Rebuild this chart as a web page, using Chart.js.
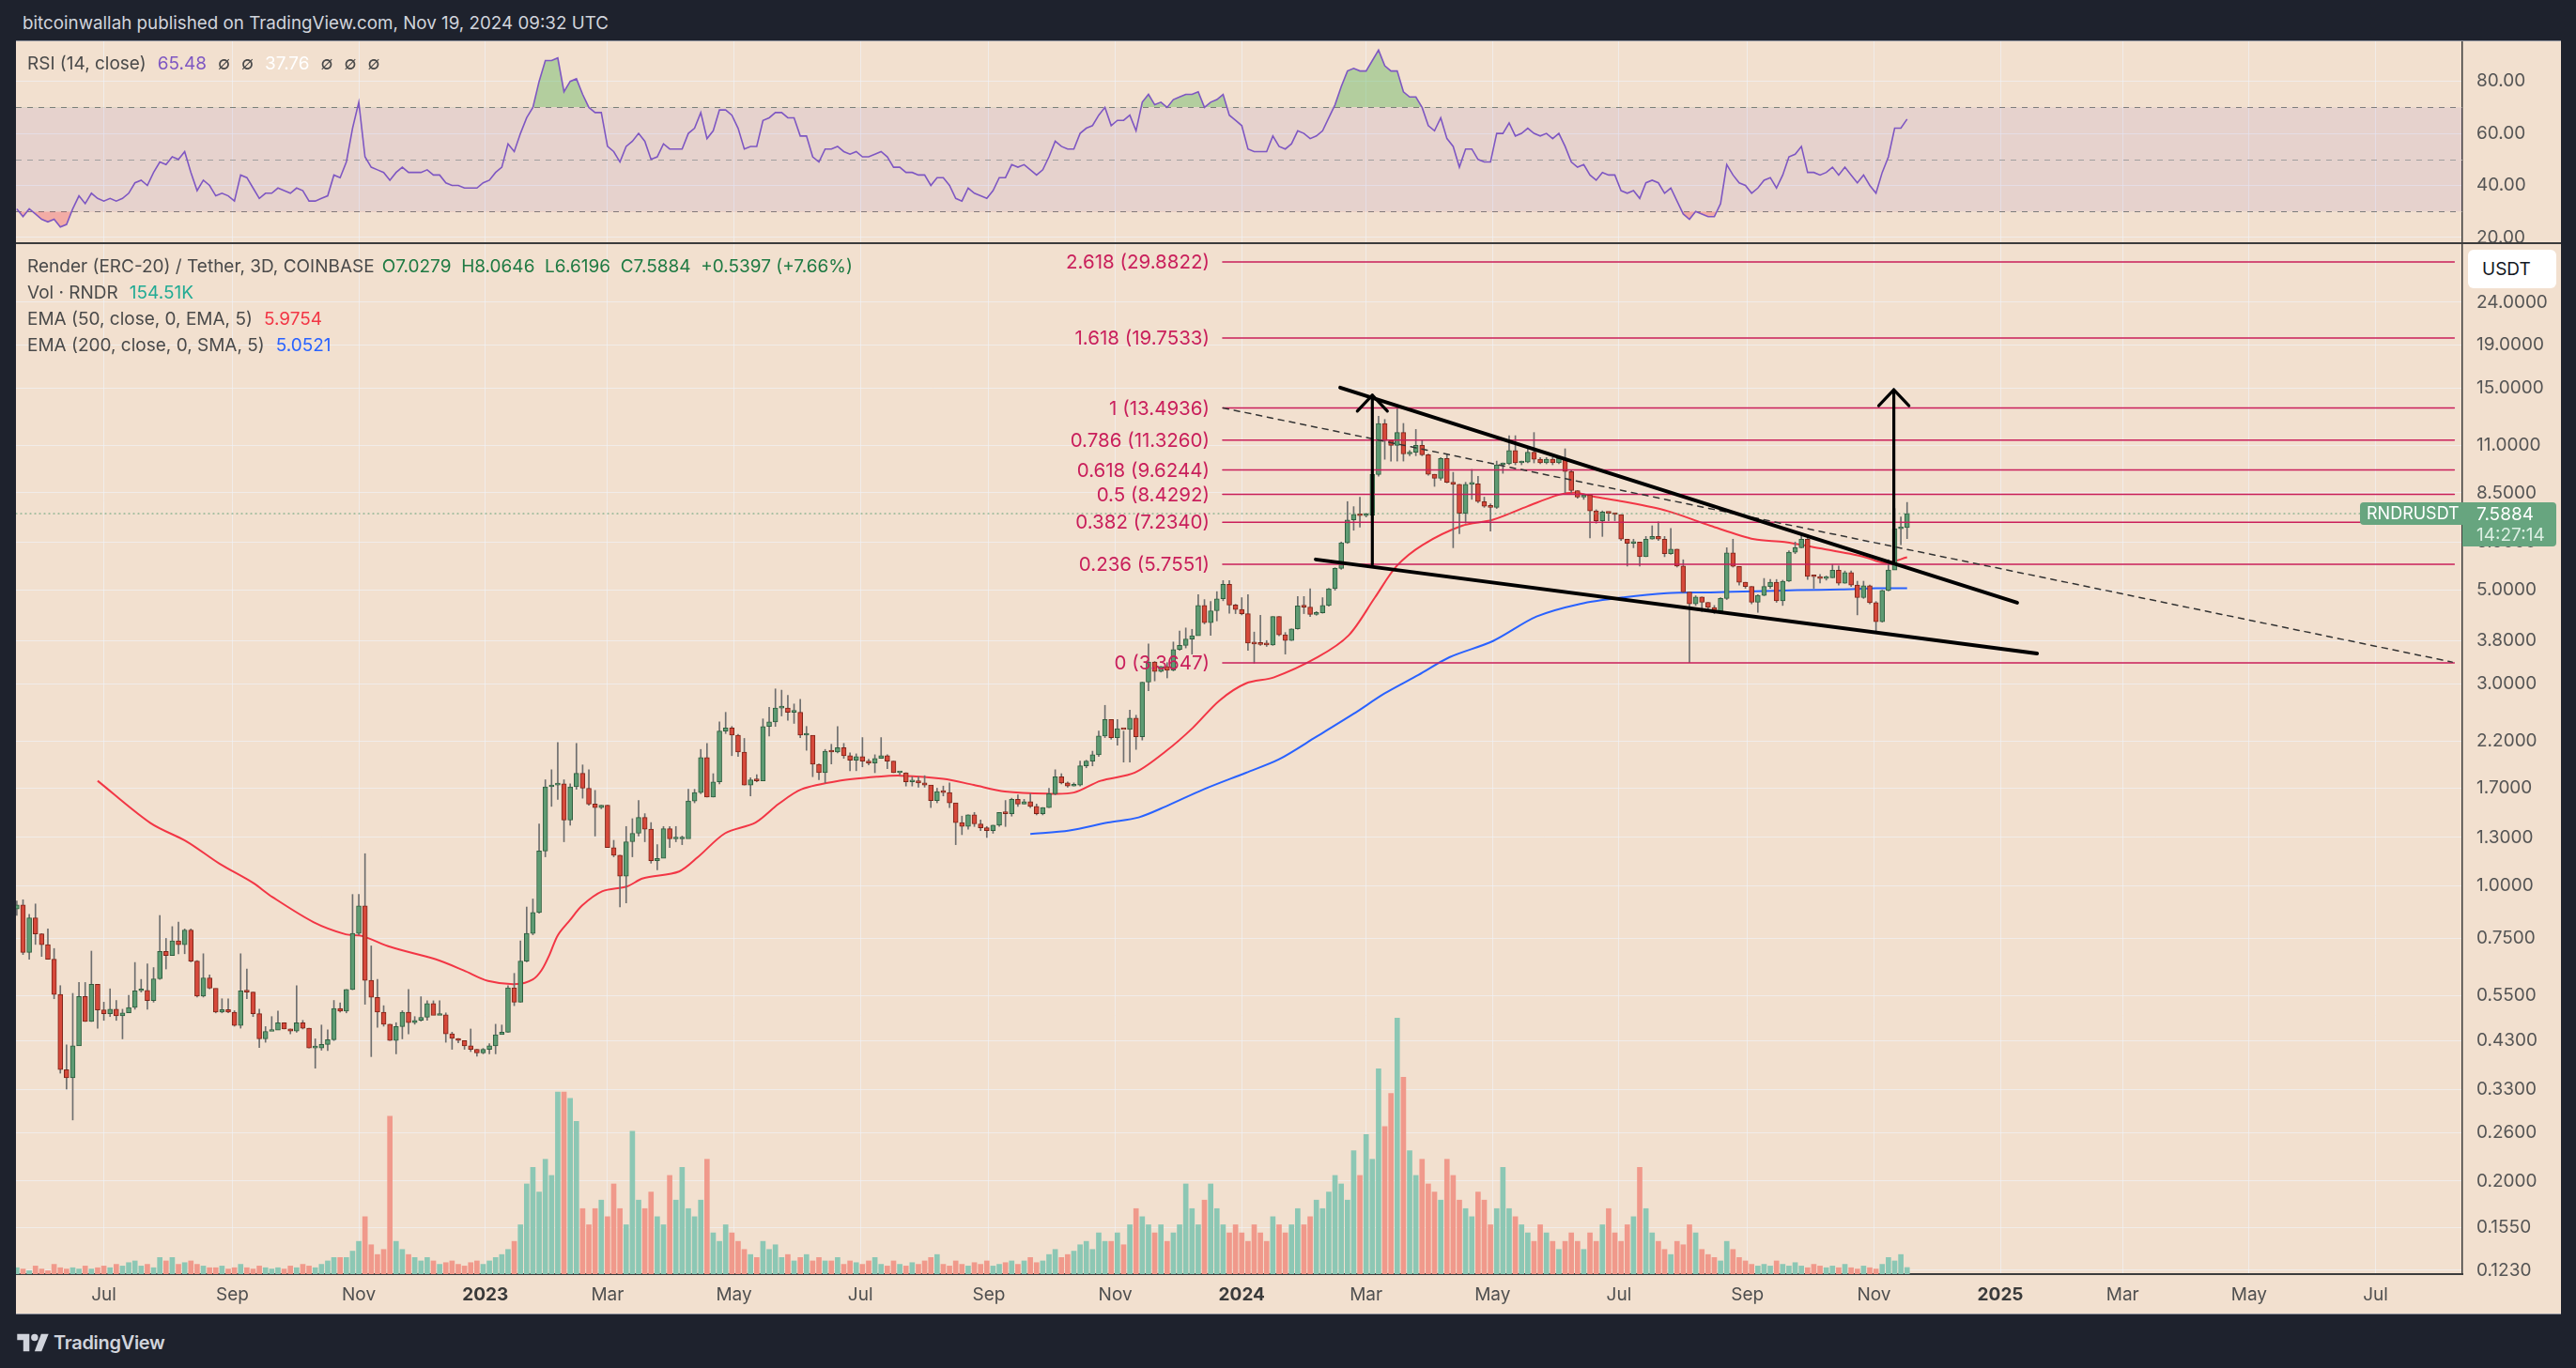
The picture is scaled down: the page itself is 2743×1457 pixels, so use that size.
<!DOCTYPE html>
<html lang="en">
<head>
<meta charset="UTF-8">
<title>RNDRUSDT 3D</title>
<script src="https://cdn.jsdelivr.net/npm/chart.js"></script>
<style>
  body { margin: 0; width: 2743px; height: 1457px; background: #1e222d; overflow: hidden; font-family: Inter, "Noto Sans", sans-serif; }
  .frame { position: absolute; left: 17px; top: 43px; width: 2710px; height: 1357px; background: #f2e0cf; border-top: 1px solid #8a8e99; border-bottom: 1px solid #8a8e99; box-sizing: border-box; }
  canvas { position: absolute; }
  .t { position: absolute; white-space: pre; font-size: 19px; line-height: 24px; color: #4a4a4a; }
  .sep { position: absolute; left: 17px; top: 258px; width: 2710px; height: 2px; background: #3c3c3c; }
  .unit { position: absolute; left: 2628px; top: 266px; width: 94px; height: 41px; background: #fff; border-radius: 6px; font-size: 19px; line-height: 41px; padding-left: 15px; box-sizing: border-box; color: #131722; }
  .logo { position: absolute; left: 17px; top: 1417px; display: flex; align-items: center; color: #d1d4dc; font-size: 20px; font-weight: 600; letter-spacing: -0.3px; }
</style>
</head>
<body>
<div class="frame"></div>
<canvas id="rsiChart" width="2710" height="215" style="left:17px;top:44px;width:2710px;height:215px"></canvas>
<canvas id="priceChart" width="2710" height="1141" style="left:17px;top:259px;width:2710px;height:1141px"></canvas>
<div class="sep"></div>

<div class="t" style="left:24px;top:13px;font-size:18.8px;color:#d1d4dc">bitcoinwallah published on TradingView.com, Nov 19, 2024 09:32 UTC</div>
<div class="t" style="left:29px;top:56px">RSI (14, close)<span style="color:#7e57c2;margin-left:12px">65.48</span><span style="margin-left:12px">∅</span><span style="margin-left:12px">∅</span><span style="color:#fff;margin-left:12px">37.76</span><span style="margin-left:12px">∅</span><span style="margin-left:12px">∅</span><span style="margin-left:12px">∅</span></div>
<div class="t" style="left:29px;top:272px">Render (ERC-20) / Tether, 3D, COINBASE<span style="color:#1f7a43;margin-left:8px">O7.0279  H8.0646  L6.6196  C7.5884  +0.5397 (+7.66%)</span></div>
<div class="t" style="left:29px;top:300px">Vol · RNDR<span style="color:#22ab94;margin-left:12px">154.51K</span></div>
<div class="t" style="left:29px;top:328px">EMA (50, close, 0, EMA, 5)<span style="color:#f23645;margin-left:12px">5.9754</span></div>
<div class="t" style="left:29px;top:356px">EMA (200, close, 0, SMA, 5)<span style="color:#2962ff;margin-left:12px">5.0521</span></div>
<div class="unit">USDT</div>
<div class="logo">
  <svg width="36" height="26" viewBox="0 0 36 28"><path d="M14 24H7V11H0V4h14v20Z" fill="#d1d4dc"/><circle cx="20" cy="8" r="4" fill="#d1d4dc"/><path d="M28 24h-8L27.5 4H36l-8 20Z" fill="#d1d4dc"/></svg>
  <span style="margin-left:4px">TradingView</span>
</div>

<script>
// 3D bars, x in days from 2023-01-01; first bar opens 2022-05-20
const startDay = -226;
const barStep = 3;
const firstOpen = 0.88;
const lastOpen = 7.0279;

const closes = [
  0.90, 0.695, 0.839, 0.769, 0.725, 0.67, 0.553, 0.367, 0.351, 0.418,
  0.547, 0.477, 0.584, 0.508, 0.498, 0.51, 0.492, 0.50, 0.515, 0.564,
  0.565, 0.535, 0.602, 0.699, 0.683, 0.74, 0.725, 0.785, 0.663, 0.548,
  0.605, 0.572, 0.502, 0.509, 0.502, 0.467, 0.564, 0.56, 0.498, 0.434,
  0.452, 0.455, 0.474, 0.458, 0.453, 0.474, 0.46, 0.413, 0.413, 0.421,
  0.432, 0.512, 0.505, 0.568, 0.771, 0.896, 0.597, 0.544, 0.502, 0.47,
  0.43, 0.464, 0.502, 0.474, 0.48, 0.488, 0.526, 0.493, 0.495, 0.446,
  0.435, 0.43, 0.418, 0.41, 0.402, 0.41, 0.418, 0.444, 0.45, 0.573,
  0.53, 0.663, 0.771, 0.864, 1.208, 1.713, 1.73, 1.74, 1.43, 1.713,
  1.843, 1.70, 1.56, 1.53, 1.55, 1.23, 1.18, 1.053, 1.27, 1.33,
  1.45, 1.36, 1.145, 1.16, 1.364, 1.29, 1.29, 1.29, 1.586, 1.66,
  2.01, 1.62, 1.76, 2.32, 2.36, 2.27, 2.07, 1.73, 1.78, 1.77,
  2.38, 2.44, 2.63, 2.63, 2.57, 2.57, 2.27, 2.27, 1.937, 1.85,
  2.08, 2.07, 2.12, 2.03, 1.98, 2.02, 1.97, 1.95, 2.0, 2.03,
  1.97, 1.85, 1.85, 1.76, 1.77, 1.75, 1.73, 1.59, 1.67, 1.66,
  1.57, 1.41, 1.38, 1.47, 1.40, 1.37, 1.35, 1.39, 1.49, 1.48,
  1.60, 1.56, 1.58, 1.54, 1.48, 1.53, 1.65, 1.81, 1.75, 1.72,
  1.73, 1.92, 1.97, 2.04, 2.26, 2.47, 2.24, 2.35, 2.34, 2.49,
  2.25, 3.03, 3.38, 3.21, 3.3, 3.23, 3.62, 3.7, 3.83, 3.9,
  4.6, 4.19, 4.47, 4.77, 5.16, 4.61, 4.5, 4.4, 3.75, 3.73,
  3.72, 3.71, 4.33, 3.92, 3.8, 4.05, 4.59, 4.56, 4.38, 4.42,
  4.6, 5.04, 5.63, 6.47, 7.33, 7.56, 7.5, 7.52, 9.39, 12.4,
  11.3, 11.0, 11.8, 10.5, 10.6, 11.0, 10.45, 9.4, 9.2, 10.25,
  9.0, 8.9, 7.6, 8.9, 8.92, 8.1, 7.9, 7.85, 9.9, 9.95,
  10.7, 10.0, 10.05, 10.6, 10.2, 10.0, 10.2, 10.0, 10.25, 9.54,
  8.6, 8.3, 8.4, 7.7, 7.3, 7.65, 7.6, 7.55, 6.6, 6.45,
  6.5, 6.0, 6.6, 6.7, 6.6, 6.1, 6.25, 5.7, 4.95, 4.64,
  4.82, 4.68, 4.55, 4.45, 4.78, 6.13, 5.69, 5.22, 5.1, 4.68,
  4.86, 5.1, 5.22, 4.72, 5.25, 6.15, 6.3, 6.6, 5.39, 5.38,
  5.33, 5.35, 5.57, 5.19, 5.5, 5.14, 4.8, 5.12, 4.67, 4.21,
  4.99, 5.58, 6.99, 7.03, 7.5884
];

const highs = [
  0.92, 0.926, 0.855, 0.905, 0.77, 0.79, 0.71, 0.58, 0.42, 0.556,
  0.59, 0.59, 0.70, 0.57, 0.53, 0.57, 0.535, 0.51, 0.55, 0.658,
  0.60, 0.653, 0.64, 0.85, 0.75, 0.80, 0.82, 0.79, 0.79, 0.665,
  0.69, 0.615, 0.57, 0.54, 0.54, 0.506, 0.69, 0.635, 0.56, 0.51,
  0.464, 0.49, 0.505, 0.474, 0.458, 0.58, 0.48, 0.46, 0.434, 0.468,
  0.456, 0.535, 0.528, 0.568, 0.953, 0.953, 1.19, 0.72, 0.60, 0.52,
  0.47, 0.474, 0.506, 0.568, 0.49, 0.546, 0.534, 0.534, 0.534, 0.50,
  0.45, 0.435, 0.425, 0.458, 0.41, 0.412, 0.423, 0.47, 0.468, 0.58,
  0.62, 0.74, 0.89, 0.93, 1.40, 1.78, 1.88, 2.18, 1.78, 1.74,
  2.17, 1.93, 1.88, 1.68, 1.55, 1.55, 1.28, 1.18, 1.38, 1.44,
  1.59, 1.48, 1.41, 1.25, 1.38, 1.38, 1.38, 1.31, 1.69, 1.69,
  2.10, 2.17, 1.84, 2.44, 2.57, 2.38, 2.28, 2.23, 1.80, 1.83,
  2.48, 2.64, 2.92, 2.90, 2.82, 2.69, 2.76, 2.38, 2.25, 1.94,
  2.10, 2.16, 2.38, 2.17, 2.06, 2.05, 2.24, 1.99, 2.04, 2.24,
  2.04, 1.97, 1.85, 1.85, 1.81, 1.81, 1.82, 1.72, 1.70, 1.72,
  1.75, 1.56, 1.46, 1.47, 1.49, 1.43, 1.38, 1.39, 1.49, 1.59,
  1.61, 1.64, 1.60, 1.65, 1.56, 1.53, 1.70, 1.88, 1.84, 1.76,
  1.75, 1.97, 1.98, 2.08, 2.32, 2.67, 2.47, 2.47, 2.32, 2.60,
  2.53, 3.03, 3.73, 3.39, 3.3, 3.37, 3.77, 4.0, 4.07, 4.04,
  4.88, 4.75, 4.70, 4.96, 5.27, 5.27, 4.63, 4.8, 4.88, 3.98,
  4.36, 3.8, 4.33, 4.33, 3.97, 4.05, 4.83, 4.83, 5.04, 4.45,
  4.8, 5.05, 5.65, 6.5, 8.1, 7.88, 8.3, 7.6, 9.85, 12.9,
  12.67, 11.3, 13.49, 12.4, 10.7, 12.0, 11.3, 10.5, 9.4, 10.3,
  10.5, 9.5, 8.9, 9.0, 9.65, 9.3, 8.3, 8.0, 10.1, 10.0,
  11.6, 11.6, 10.1, 10.8, 11.8, 10.3, 10.3, 10.3, 10.4, 10.8,
  9.6, 8.6, 8.45, 8.4, 7.75, 7.7, 7.65, 7.6, 7.55, 6.6,
  6.6, 6.45, 6.7, 7.1, 7.25, 6.7, 7.0, 6.25, 5.9, 4.95,
  4.85, 4.82, 4.68, 4.6, 4.8, 6.3, 6.6, 5.68, 5.22, 5.1,
  4.88, 5.33, 5.3, 5.3, 5.28, 6.2, 6.5, 6.8, 6.75, 5.42,
  5.45, 5.4, 5.75, 5.7, 5.55, 5.55, 5.25, 5.25, 5.14, 4.7,
  5.0, 5.9, 7.8, 7.45, 8.0646
];

const lows = [
  0.85, 0.687, 0.67, 0.726, 0.68, 0.67, 0.54, 0.36, 0.33, 0.279,
  0.42, 0.477, 0.477, 0.46, 0.48, 0.49, 0.48, 0.434, 0.50, 0.51,
  0.56, 0.51, 0.53, 0.60, 0.635, 0.69, 0.69, 0.69, 0.66, 0.545,
  0.545, 0.57, 0.50, 0.50, 0.50, 0.465, 0.46, 0.54, 0.49, 0.414,
  0.426, 0.455, 0.458, 0.458, 0.446, 0.45, 0.458, 0.413, 0.37, 0.408,
  0.407, 0.43, 0.502, 0.50, 0.567, 0.765, 0.524, 0.394, 0.462, 0.465,
  0.43, 0.40, 0.434, 0.446, 0.47, 0.478, 0.48, 0.495, 0.495, 0.426,
  0.41, 0.425, 0.41, 0.405, 0.395, 0.40, 0.40, 0.40, 0.445, 0.45,
  0.52, 0.53, 0.66, 0.765, 0.86, 1.17, 1.54, 1.60, 1.27, 1.39,
  1.69, 1.61, 1.55, 1.31, 1.52, 1.23, 1.17, 0.89, 0.91, 1.17,
  1.31, 1.27, 1.13, 1.09, 1.17, 1.23, 1.27, 1.25, 1.30, 1.57,
  1.65, 1.62, 1.62, 1.74, 2.29, 2.03, 2.02, 1.73, 1.63, 1.76,
  1.77, 2.26, 2.38, 2.52, 2.46, 2.42, 2.24, 2.09, 1.81, 1.78,
  1.75, 1.94, 2.06, 2.0, 1.87, 1.87, 1.91, 1.93, 1.85, 2.0,
  1.89, 1.85, 1.83, 1.72, 1.72, 1.71, 1.71, 1.53, 1.57, 1.63,
  1.53, 1.25, 1.32, 1.36, 1.38, 1.35, 1.30, 1.33, 1.38, 1.38,
  1.46, 1.54, 1.56, 1.53, 1.47, 1.47, 1.53, 1.64, 1.74, 1.71,
  1.72, 1.72, 1.90, 1.92, 2.02, 2.24, 2.22, 2.15, 1.96, 1.96,
  2.10, 2.21, 2.89, 3.05, 3.2, 3.10, 3.22, 3.6, 3.65, 3.53,
  3.91, 4.16, 3.91, 4.23, 4.72, 4.41, 4.4, 4.37, 3.6, 3.36,
  3.70, 3.68, 3.7, 3.9, 3.53, 3.8, 4.04, 4.4, 4.33, 4.36,
  4.41, 4.58, 5.0, 5.6, 6.45, 6.93, 7.05, 7.45, 7.45, 9.3,
  10.2, 10.1, 10.1, 10.1, 10.4, 10.4, 10.4, 9.35, 8.8, 9.1,
  8.97, 6.3, 6.8, 7.2, 8.2, 8.05, 7.85, 6.9, 7.8, 9.45,
  9.9, 9.9, 9.9, 10.0, 10.0, 9.95, 9.95, 9.9, 9.95, 8.5,
  8.5, 8.25, 8.2, 6.65, 7.2, 6.7, 7.3, 7.3, 6.55, 5.7,
  6.3, 5.7, 6.0, 6.6, 6.55, 6.0, 6.08, 5.67, 4.93, 3.37,
  4.6, 4.45, 4.5, 4.4, 4.4, 4.75, 5.67, 5.14, 5.05, 4.64,
  4.43, 4.85, 5.05, 4.68, 4.6, 5.24, 6.1, 6.3, 5.3, 5.05,
  5.2, 5.28, 5.35, 5.14, 5.19, 5.1, 4.37, 4.78, 4.64, 4.0,
  4.2, 4.98, 5.6, 6.4, 6.6196
];

// volume in thousands of RNDR
const volumes = [
  150, 120, 80, 190, 120, 80, 230, 150, 120, 150, 120, 190, 120, 150,
  190, 150, 230, 190, 270, 310, 190, 230, 150, 390, 310, 390, 230, 270,
  310, 230, 190, 150, 150, 190, 120, 150, 230, 150, 120, 190, 150, 120, 150, 120, 190, 150,
  230, 190, 150, 230, 310, 390, 390, 390, 540, 770,
  1350, 690, 460, 580,
  3710,
  770, 580, 460, 390, 310, 390, 310, 230, 270, 310,
  230, 190, 270, 310, 230, 310, 390, 460, 580, 770,
  1160, 2120, 2510, 1930, 2700, 2320, 4280, 4280, 4130, 3590, 1540,
  1160, 1540, 1740, 1350, 2120, 1540, 1160,
  3360,
  1740, 1540, 1930, 1350, 1160, 2320, 1740, 2510,
  1540, 1350, 1740, 2700, 970, 770, 1160, 970,
  770, 580, 460, 390, 770, 580, 690, 390, 460, 310, 390, 460, 310, 390, 310,
  310, 390, 230, 310, 270, 230, 310, 390, 230, 190, 310, 230, 190, 270, 230,
  310, 390, 460, 230, 190, 310, 230, 190, 270, 230, 310, 190, 230, 270, 310,
  230, 310, 390, 270, 310, 460, 580, 390, 460, 540, 690, 770, 580, 970, 770,
  770, 970, 690, 1160, 1540, 1350, 1160, 970, 1160, 770,
  970, 1160, 2120, 1540, 1160, 1740, 2120, 1540, 1160, 970,
  1160, 970, 770, 1160, 970, 770, 1350, 1160, 970, 1160,
  1540, 1160, 1350, 1740, 1540, 1930, 2320, 2120, 1740, 2900,
  2320, 3280, 2700, 4830, 3470, 4250,
  6020,
  4630, 2900, 2320, 2700, 2120, 1930, 1740, 2700,
  2320, 1740, 1540, 1350, 1930, 1740, 1160, 1540, 2510, 1540,
  1350, 1160, 970, 770, 1160, 970, 770, 580, 770, 970,
  770, 580, 970, 770, 1160, 1540, 970, 770, 1160, 1350,
  2510, 1540, 970, 770, 580, 460, 770, 690, 1160, 970,
  580, 460, 390, 310, 770, 580, 390, 310, 230, 190,
  230, 190, 310, 230, 190, 270, 190, 150, 230, 190,
  150, 190, 150, 230, 150, 120, 190, 150, 120, 230,
  390, 310, 460, 155
];

const rsi = [
  31, 28, 31, 29, 27, 26, 27, 24, 25, 31,
  36, 33, 37, 35, 34, 35, 34, 35, 37, 41,
  42, 40, 45, 49, 48, 51, 50, 53, 45, 38,
  42, 40, 36, 37, 36, 34, 44, 43, 39, 35,
  37, 37, 39, 38, 37, 39, 38, 34, 34, 35,
  36, 44, 43, 49, 62, 72, 51, 47, 46, 45,
  42, 45, 47, 45, 45, 45, 46, 44, 44, 41,
  40, 40, 39, 39, 39, 41, 42, 45, 47, 56,
  53, 60, 66, 70, 80, 88, 88, 89, 76, 80,
  81, 75, 70, 68, 68, 55, 53, 49, 55, 57,
  60, 57, 50, 51, 56, 54, 54, 54, 60, 62,
  68, 58, 61, 69, 69, 67, 62, 54, 55, 55,
  65, 66, 68, 68, 66, 66, 59, 59, 51, 49,
  54, 54, 55, 53, 52, 53, 51, 51, 52, 53,
  51, 47, 47, 45, 45, 44, 44, 40, 43, 43,
  40, 35, 34, 39, 37, 36, 35, 38, 43, 43,
  48, 47, 48, 46, 44, 46, 51, 57, 55, 54,
  54, 60, 62, 63, 67, 70, 63, 65, 65, 67,
  61, 72, 75, 71, 72, 70, 73, 74, 75, 75,
  76, 70, 72, 73, 75, 67, 65, 63, 54, 53,
  53, 53, 59, 55, 54, 56, 61, 60, 58, 59,
  61, 66, 71, 78, 84, 85, 84, 84, 88, 92,
  86, 84, 84, 76, 74, 74, 70, 63, 61, 66,
  58, 55, 47, 54, 54, 50, 49, 49, 60, 60,
  64, 59, 60, 62, 60, 59, 60, 58, 60, 55,
  49, 47, 48, 44, 42, 45, 44, 44, 38, 37,
  38, 35, 41, 42, 41, 37, 39, 34, 29, 27,
  30, 29, 28, 28, 33, 48, 44, 41, 40, 37,
  39, 42, 43, 39, 44, 51, 52, 55, 45, 45,
  44, 45, 47, 44, 47, 44, 41, 44, 40, 37,
  45, 51, 62, 62, 65.48
];

// EMA lines, read at these bar positions
const ema50Bars = [13, 21.5, 27.4, 32.6, 37.9, 41.1, 47.7, 52.9, 55.5, 60.1, 67.3, 71.9, 75.8, 80.4, 83, 84.4, 85.7, 87, 89, 90.9, 94.2, 98.1, 100.7, 106.5, 109.5, 113.9, 118.8, 122.5, 126.2, 132.3, 138.5, 142.2, 149, 153.9, 158.9, 165.7, 170, 174.3, 179.8, 184.8, 189.1, 193.4, 197.7, 202.2, 209.2, 214.2, 218.4, 221.9, 226.1, 232.4, 237.3, 243, 247.9, 250.7, 253.5, 258.4, 265.4, 272.4, 279.4, 284.3, 290, 297, 300.5, 304];
const ema50Vals = [1.77, 1.406, 1.27, 1.127, 1.017, 0.94, 0.82, 0.767, 0.76, 0.716, 0.67, 0.63, 0.595, 0.585, 0.600, 0.631, 0.688, 0.763, 0.83, 0.897, 0.97, 0.995, 1.04, 1.08, 1.167, 1.33, 1.41, 1.56, 1.69, 1.77, 1.81, 1.82, 1.79, 1.73, 1.67, 1.65, 1.66, 1.77, 1.85, 2.08, 2.36, 2.74, 3.01, 3.11, 3.47, 3.91, 4.8, 5.7, 6.4, 7.1, 7.33, 7.9, 8.4, 8.5, 8.33, 8.1, 7.7, 7.1, 6.6, 6.5, 6.28, 6.0, 5.8, 5.98];
const ema200Bars = [163, 169.3, 175.5, 180.4, 184.8, 190.9, 197.7, 203, 209, 215, 220, 225.4, 230.4, 237.4, 244.4, 251.4, 258.4, 265.4, 272.4, 279.4, 286.3, 293.4, 299, 304];
const ema200Vals = [1.325, 1.35, 1.41, 1.45, 1.54, 1.69, 1.85, 1.99, 2.25, 2.55, 2.85, 3.15, 3.47, 3.79, 4.33, 4.64, 4.81, 4.92, 4.94, 4.97, 5.0, 5.02, 5.05, 5.05];

// Fibonacci retracement
const fibLevels = ['2.618', '1.618', '1', '0.786', '0.618', '0.5', '0.382', '0.236', '0'];
const fibPrices = [29.8822, 19.7533, 13.4936, 11.3260, 9.6244, 8.4292, 7.2340, 5.7551, 3.3647];
const fibStartDay = 355.8;
const fibEndDay = 950;

// drawings: [day, price]
const dashedTrend = [[356, 13.49], [949, 3.38]];
const wedgeUpper = [[412.5, 15.07], [739.1, 4.67]];
const wedgeLower = [[400.7, 5.91], [748.7, 3.54]];
const arrowLeft = [[428, 5.755], [428, 14.46]];
const arrowLeftHead = [[420.75, 13.26], [428, 14.46], [435.25, 13.26]];
const arrowRight = [[679.6, 5.85], [679.6, 14.9]];
const arrowRightHead = [[672.3, 13.66], [679.6, 14.9], [686.9, 13.66]];
const lastPrice = 7.5884;

const tickDays = [-184, -122, -61, 0, 59, 120, 181, 243, 304, 365, 425, 486, 547, 609, 670, 731, 790, 851, 912];
const tickLabels = ['Jul', 'Sep', 'Nov', '2023', 'Mar', 'May', 'Jul', 'Sep', 'Nov', '2024', 'Mar', 'May', 'Jul', 'Sep', 'Nov', '2025', 'Mar', 'May', 'Jul'];
const priceTicks = [24, 19, 15, 11, 8.5, 6.5, 5, 3.8, 3, 2.2, 1.7, 1.3, 1, 0.75, 0.55, 0.43, 0.33, 0.26, 0.2, 0.155, 0.123];
const rsiTicks = [20, 40, 60, 80];

const xMin = -226.4, xMax = 953.9;

Chart.defaults.font.family = 'Inter, "Noto Sans", sans-serif';
Chart.defaults.font.size = 19;

const gridColor = 'rgba(240,243,250,0.6)';
const axisText = '#555555';
const fibColor = '#c91f5b';

const days = closes.map((c, i) => startDay + barStep * i);
const opens = closes.map((c, i) => i === 0 ? firstOpen : (i === closes.length - 1 ? lastOpen : closes[i - 1]));
const up = closes.map((c, i) => c >= opens[i]);
const toXY = pts => pts.map(([x, y]) => ({ x, y }));
const isYearTick = c => !!(c && c.tick && (tickLabels[tickDays.indexOf(c.tick.value)] || '').length === 4);

function seg(points, color, width, dash, order) {
  return {
    type: 'line', data: toXY(points), borderColor: color, borderWidth: width,
    borderDash: dash || [], pointRadius: 0, fill: false, tension: 0,
    borderCapStyle: 'round', borderJoinStyle: 'round', order: order, yAxisID: 'y'
  };
}

function xAxis(showLabels) {
  return {
    type: 'linear', min: xMin, max: xMax, offset: false,
    afterBuildTicks: s => { s.ticks = tickDays.map(v => ({ value: v })); },
    grid: { color: gridColor, drawTicks: false, offset: false },
    border: showLabels ? { display: true, color: '#3c3c3c', width: 2 } : { display: false },
    ticks: {
      display: showLabels, autoSkip: false, maxRotation: 0, padding: 11,
      color: c => isYearTick(c) ? '#3a3a3a' : '#4f4f4f',
      font: c => ({ size: 19, weight: isYearTick(c) ? 'bold' : 'normal' }),
      callback: v => tickLabels[tickDays.indexOf(v)] || ''
    },
    afterFit: s => { s.height = showLabels ? 43 : 0; s.paddingLeft = 0; s.paddingRight = 0; }
  };
}

// ---------- RSI pane ----------
const rsiBand = {
  id: 'rsiBand',
  beforeDatasetsDraw(chart) {
    const { ctx, chartArea: a, scales: { y } } = chart;
    const y70 = y.getPixelForValue(70), y50 = y.getPixelForValue(50), y30 = y.getPixelForValue(30);
    ctx.save();
    ctx.fillStyle = 'rgba(126,87,194,0.1)';
    ctx.fillRect(a.left, y70, a.right - a.left, y30 - y70);
    ctx.lineWidth = 1;
    ctx.setLineDash([6, 6]);
    [[y70, '#7d7d7d'], [y50, '#a0a0a0'], [y30, '#7d7d7d']].forEach(([py, col]) => {
      ctx.strokeStyle = col;
      ctx.beginPath();
      ctx.moveTo(a.left, Math.round(py) + 0.5);
      ctx.lineTo(a.right, Math.round(py) + 0.5);
      ctx.stroke();
    });
    ctx.restore();
  }
};

const rsiPoints = days.map((d, i) => ({ x: d, y: rsi[i] }));

new Chart(document.getElementById('rsiChart'), {
  type: 'line',
  data: {
    datasets: [
      {
        data: rsiPoints, borderColor: '#7e57c2', borderWidth: 1.6, pointRadius: 0, tension: 0,
        fill: { target: { value: 70 }, above: 'rgba(76,175,80,0.38)', below: 'rgba(0,0,0,0)' }
      },
      {
        data: rsiPoints, borderColor: 'rgba(0,0,0,0)', borderWidth: 0, pointRadius: 0, tension: 0,
        fill: { target: { value: 30 }, above: 'rgba(0,0,0,0)', below: 'rgba(242,54,69,0.3)' }
      }
    ]
  },
  options: {
    responsive: false, animation: false, devicePixelRatio: 1, events: [],
    layout: { padding: 0 },
    plugins: { legend: { display: false }, tooltip: { enabled: false } },
    scales: {
      x: xAxis(false),
      y: {
        position: 'right', min: 17.8, max: 95.4,
        afterBuildTicks: s => { s.ticks = rsiTicks.map(v => ({ value: v })); },
        grid: { color: gridColor, drawTicks: false },
        border: { display: true, color: '#3c3c3c', width: 1.5 },
        ticks: { color: axisText, padding: 15, callback: v => Number(v).toFixed(2) },
        afterFit: s => { s.width = 105; s.paddingTop = 0; s.paddingBottom = 0; }
      }
    }
  },
  plugins: [rsiBand]
});

// ---------- price pane ----------
const fibLabels = {
  id: 'fibLabels',
  afterDatasetsDraw(chart) {
    const { ctx, scales: { x, y } } = chart;
    ctx.save();
    ctx.font = '20.5px Inter, "Noto Sans", sans-serif';
    ctx.fillStyle = fibColor;
    ctx.textAlign = 'right';
    ctx.textBaseline = 'middle';
    const lx = x.getPixelForValue(fibStartDay) - 14;
    fibLevels.forEach((lv, k) => {
      ctx.fillText(lv + ' (' + fibPrices[k].toFixed(4) + ')', lx, y.getPixelForValue(fibPrices[k]) + 1);
    });
    ctx.restore();
  }
};

const priceTag = {
  id: 'priceTag',
  afterDraw(chart) {
    const { ctx, chartArea: a, scales: { y } } = chart;
    const py = Math.round(y.getPixelForValue(lastPrice));
    ctx.save();
    ctx.fillStyle = '#67a57f';
    ctx.beginPath();
    ctx.roundRect(a.right - 109, py - 12, 109, 24, [4, 0, 0, 4]);
    ctx.fill();
    ctx.beginPath();
    ctx.roundRect(a.right, py - 12, 100, 47, [0, 4, 4, 0]);
    ctx.fill();
    ctx.textBaseline = 'middle';
    ctx.textAlign = 'left';
    ctx.fillStyle = '#ffffff';
    ctx.font = '18px Inter, "Noto Sans", sans-serif';
    ctx.fillText('RNDRUSDT', a.right - 102, py + 1);
    ctx.font = '19px Inter, "Noto Sans", sans-serif';
    ctx.fillText(lastPrice.toFixed(4), a.right + 15, py + 1);
    ctx.fillStyle = '#dcefe3';
    ctx.fillText('14:27:14', a.right + 15, py + 23);
    ctx.restore();
  }
};

const datasets = [
  {
    type: 'bar', yAxisID: 'yv', order: 100, grouped: false, barThickness: 5,
    data: days.map((d, i) => ({ x: d, y: volumes[i] })),
    backgroundColor: up.map(u => u ? '#8cc7b4' : '#f0998b')
  },
  {
    type: 'line', yAxisID: 'y', order: 60, borderColor: '#f23645', borderWidth: 2, pointRadius: 0, tension: 0.3,
    data: ema50Bars.map((b, k) => ({ x: startDay + barStep * b, y: ema50Vals[k] }))
  },
  {
    type: 'line', yAxisID: 'y', order: 60, borderColor: '#2962ff', borderWidth: 2, pointRadius: 0, tension: 0.3,
    data: ema200Bars.map((b, k) => ({ x: startDay + barStep * b, y: ema200Vals[k] }))
  },
  {
    type: 'bar', yAxisID: 'y', order: 40, grouped: false, barThickness: 1,
    data: days.map((d, i) => ({ x: d, y: [lows[i], highs[i]] })),
    backgroundColor: '#6e6e6e'
  },
  {
    type: 'bar', yAxisID: 'y', order: 30, grouped: false, barThickness: 5, minBarLength: 2,
    borderWidth: 1, borderSkipped: false,
    data: days.map((d, i) => ({ x: d, y: [opens[i], closes[i]] })),
    backgroundColor: up.map(u => u ? '#5e9b73' : '#d6493b'),
    borderColor: up.map(u => u ? '#2f5e3f' : '#7e2418')
  },
  seg([[xMin, lastPrice], [xMax, lastPrice]], '#5f9e76', 1.2, [1, 4], 25)
];
fibPrices.forEach(p => datasets.push(seg([[fibStartDay, p], [fibEndDay, p]], fibColor, 1.5, null, 20)));
datasets.push(seg(dashedTrend, '#333333', 1.5, [6, 6], 10));
datasets.push(seg(wedgeUpper, '#000000', 4, null, 5));
datasets.push(seg(wedgeLower, '#000000', 4, null, 5));
datasets.push(seg(arrowLeft, '#000000', 3.2, null, 5));
datasets.push(seg(arrowLeftHead, '#000000', 3.2, null, 5));
datasets.push(seg(arrowRight, '#000000', 3.2, null, 5));
datasets.push(seg(arrowRightHead, '#000000', 3.2, null, 5));

new Chart(document.getElementById('priceChart'), {
  type: 'bar',
  data: { datasets },
  options: {
    responsive: false, animation: false, devicePixelRatio: 1, events: [],
    layout: { padding: 0 },
    plugins: { legend: { display: false }, tooltip: { enabled: false } },
    scales: {
      x: xAxis(true),
      y: {
        type: 'logarithmic', position: 'right', min: 0.1205, max: 33.1, beginAtZero: false,
        afterBuildTicks: s => { s.ticks = priceTicks.map(v => ({ value: v })); },
        grid: { color: gridColor, drawTicks: false },
        border: { display: true, color: '#3c3c3c', width: 1.5 },
        ticks: { color: axisText, padding: 15, autoSkip: false, callback: v => Number(v).toFixed(4) },
        afterFit: s => { s.width = 105; s.paddingTop = 0; s.paddingBottom = 0; }
      },
      yv: { type: 'linear', display: false, min: 0, max: 24240, beginAtZero: true }
    }
  },
  plugins: [fibLabels, priceTag]
});
</script>
</body>
</html>
